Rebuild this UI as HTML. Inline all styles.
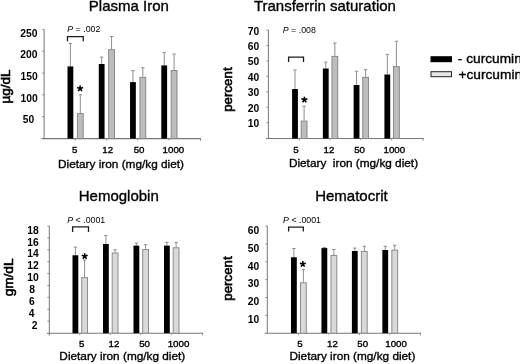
<!DOCTYPE html>
<html><head><meta charset="utf-8"><style>
html,body{margin:0;padding:0;background:#fff;overflow:hidden;}
svg{display:block;font-family:"Liberation Sans", sans-serif;filter:grayscale(1) blur(0.35px);}
text{stroke:#000;stroke-width:0.35px;}
text[font-weight="700"],text.ns{stroke:none;}
</style></head><body>
<svg width="520" height="364" viewBox="0 0 520 364">
<rect width="520" height="364" fill="#fff"/>
<line x1="44.1" y1="29.4" x2="44.1" y2="139.1" stroke="#777" stroke-width="1"/>
<line x1="41.6" y1="138.6" x2="201" y2="138.6" stroke="#777" stroke-width="1.1"/>
<line x1="200.5" y1="138.6" x2="200.5" y2="140.8" stroke="#777" stroke-width="0.8"/>
<line x1="75.1" y1="138.6" x2="75.1" y2="140.6" stroke="#777" stroke-width="0.7"/>
<line x1="106.37" y1="138.6" x2="106.37" y2="140.6" stroke="#777" stroke-width="0.7"/>
<line x1="137.64" y1="138.6" x2="137.64" y2="140.6" stroke="#777" stroke-width="0.7"/>
<line x1="168.91" y1="138.6" x2="168.91" y2="140.6" stroke="#777" stroke-width="0.7"/>
<line x1="42.1" y1="29.4" x2="44.1" y2="29.4" stroke="#777" stroke-width="0.8"/>
<line x1="42.1" y1="51.25" x2="44.1" y2="51.25" stroke="#777" stroke-width="0.8"/>
<line x1="42.1" y1="73.1" x2="44.1" y2="73.1" stroke="#777" stroke-width="0.8"/>
<line x1="42.1" y1="94.8" x2="44.1" y2="94.8" stroke="#777" stroke-width="0.8"/>
<line x1="42.1" y1="116.6" x2="44.1" y2="116.6" stroke="#777" stroke-width="0.8"/>
<text x="28.9" y="36.5" font-size="10.3" font-weight="700" text-anchor="middle" >250</text>
<text x="28.9" y="58.2" font-size="10.3" font-weight="700" text-anchor="middle" >200</text>
<text x="29.2" y="80" font-size="10.3" font-weight="700" text-anchor="middle" >150</text>
<text x="29.2" y="101.7" font-size="10.3" font-weight="700" text-anchor="middle" >100</text>
<text x="28.4" y="123.4" font-size="10.3" font-weight="700" text-anchor="middle" >50</text>
<line x1="70.4" y1="43.5" x2="70.4" y2="66.4" stroke="#8e8e8e" stroke-width="1"/>
<line x1="68.7" y1="43.5" x2="72.1" y2="43.5" stroke="#8e8e8e" stroke-width="1"/>
<rect x="67.5" y="66.4" width="5.8" height="72.2" fill="#000"/>
<line x1="80.3" y1="94.75" x2="80.3" y2="113.1" stroke="#8e8e8e" stroke-width="1"/>
<line x1="78.6" y1="94.75" x2="82.0" y2="94.75" stroke="#8e8e8e" stroke-width="1"/>
<rect x="77.4" y="113.6" width="5.8" height="25.0" fill="#bdbdbd" stroke="#888" stroke-width="1"/>
<line x1="101.67" y1="57.1" x2="101.67" y2="64" stroke="#8e8e8e" stroke-width="1"/>
<line x1="99.97" y1="57.1" x2="103.37" y2="57.1" stroke="#8e8e8e" stroke-width="1"/>
<rect x="98.77" y="64" width="5.8" height="74.6" fill="#000"/>
<line x1="111.57" y1="36.5" x2="111.57" y2="49.2" stroke="#8e8e8e" stroke-width="1"/>
<line x1="109.87" y1="36.5" x2="113.27" y2="36.5" stroke="#8e8e8e" stroke-width="1"/>
<rect x="108.67" y="49.7" width="5.8" height="88.9" fill="#bdbdbd" stroke="#888" stroke-width="1"/>
<line x1="132.94" y1="70.6" x2="132.94" y2="82.1" stroke="#8e8e8e" stroke-width="1"/>
<line x1="131.24" y1="70.6" x2="134.64" y2="70.6" stroke="#8e8e8e" stroke-width="1"/>
<rect x="130.04" y="82.1" width="5.8" height="56.5" fill="#000"/>
<line x1="142.84" y1="67.75" x2="142.84" y2="76.9" stroke="#8e8e8e" stroke-width="1"/>
<line x1="141.14" y1="67.75" x2="144.54" y2="67.75" stroke="#8e8e8e" stroke-width="1"/>
<rect x="139.94" y="77.4" width="5.8" height="61.2" fill="#bdbdbd" stroke="#888" stroke-width="1"/>
<line x1="164.21" y1="52.5" x2="164.21" y2="65.4" stroke="#8e8e8e" stroke-width="1"/>
<line x1="162.51" y1="52.5" x2="165.91" y2="52.5" stroke="#8e8e8e" stroke-width="1"/>
<rect x="161.31" y="65.4" width="5.8" height="73.2" fill="#000"/>
<line x1="174.11" y1="54" x2="174.11" y2="70" stroke="#8e8e8e" stroke-width="1"/>
<line x1="172.41" y1="54" x2="175.81" y2="54" stroke="#8e8e8e" stroke-width="1"/>
<rect x="171.21" y="70.5" width="5.8" height="68.1" fill="#bdbdbd" stroke="#888" stroke-width="1"/>
<text x="0" y="0" font-size="9.1" text-anchor="middle" transform="translate(74.7 152.9) scale(1.07 1)">5</text>
<text x="0" y="0" font-size="9.1" text-anchor="middle" transform="translate(107.7 152.9) scale(1.07 1)">12</text>
<text x="0" y="0" font-size="9.1" text-anchor="middle" transform="translate(139.1 152.9) scale(1.07 1)">50</text>
<text x="0" y="0" font-size="9.1" text-anchor="middle" transform="translate(173.4 152.9) scale(1.07 1)">1000</text>
<text x="121" y="167.5" font-size="11.8" font-weight="400" text-anchor="middle" xml:space="preserve">Dietary iron (mg/kg diet)</text>
<text x="128.85" y="10.7" font-size="15" font-weight="400" text-anchor="middle" >Plasma Iron</text>
<text x="0" y="0" font-size="13.5" text-anchor="middle" style="stroke-width:0.6px" transform="translate(9.6,86.45) rotate(-90)">µg/dL</text>
<path d="M67.5 41.3 V36.6 H83.2 V41.3" fill="none" stroke="#1a1a1a" stroke-width="1.3"/>
<text class="ns" x="67.3" y="32.1" font-size="8.8" xml:space="preserve"><tspan font-style="italic">P</tspan> = .002</text>
<path d="M80.10 88.50L80.10 85.40M80.10 88.50L83.05 87.54M80.10 88.50L81.92 91.01M80.10 88.50L78.28 91.01M80.10 88.50L77.15 87.54" stroke="#000" stroke-width="1.6" fill="none"/>
<line x1="268.4" y1="30" x2="268.4" y2="139.0" stroke="#777" stroke-width="1"/>
<line x1="265.9" y1="138.5" x2="423.7" y2="138.5" stroke="#777" stroke-width="1.1"/>
<line x1="423.2" y1="138.5" x2="423.2" y2="140.7" stroke="#777" stroke-width="0.8"/>
<line x1="299.3" y1="138.5" x2="299.3" y2="140.5" stroke="#777" stroke-width="0.7"/>
<line x1="330.07" y1="138.5" x2="330.07" y2="140.5" stroke="#777" stroke-width="0.7"/>
<line x1="360.84" y1="138.5" x2="360.84" y2="140.5" stroke="#777" stroke-width="0.7"/>
<line x1="391.61" y1="138.5" x2="391.61" y2="140.5" stroke="#777" stroke-width="0.7"/>
<line x1="266.4" y1="30.0" x2="268.4" y2="30.0" stroke="#777" stroke-width="0.8"/>
<line x1="266.4" y1="45.45" x2="268.4" y2="45.45" stroke="#777" stroke-width="0.8"/>
<line x1="266.4" y1="60.9" x2="268.4" y2="60.9" stroke="#777" stroke-width="0.8"/>
<line x1="266.4" y1="76.35" x2="268.4" y2="76.35" stroke="#777" stroke-width="0.8"/>
<line x1="266.4" y1="91.8" x2="268.4" y2="91.8" stroke="#777" stroke-width="0.8"/>
<line x1="266.4" y1="107.25" x2="268.4" y2="107.25" stroke="#777" stroke-width="0.8"/>
<line x1="266.4" y1="122.7" x2="268.4" y2="122.7" stroke="#777" stroke-width="0.8"/>
<text x="253.5" y="34.75" font-size="10.3" font-weight="700" text-anchor="middle" >70</text>
<text x="253.5" y="50.11" font-size="10.3" font-weight="700" text-anchor="middle" >60</text>
<text x="253.5" y="65.47" font-size="10.3" font-weight="700" text-anchor="middle" >50</text>
<text x="253.5" y="80.83" font-size="10.3" font-weight="700" text-anchor="middle" >40</text>
<text x="253.5" y="96.19" font-size="10.3" font-weight="700" text-anchor="middle" >30</text>
<text x="253.5" y="111.55" font-size="10.3" font-weight="700" text-anchor="middle" >20</text>
<text x="253.5" y="126.91" font-size="10.3" font-weight="700" text-anchor="middle" >10</text>
<line x1="295.0" y1="70" x2="295.0" y2="89" stroke="#8e8e8e" stroke-width="1"/>
<line x1="293.3" y1="70" x2="296.7" y2="70" stroke="#8e8e8e" stroke-width="1"/>
<rect x="292.1" y="89" width="5.8" height="49.5" fill="#000"/>
<line x1="304.1" y1="106.25" x2="304.1" y2="120.6" stroke="#8e8e8e" stroke-width="1"/>
<line x1="302.4" y1="106.25" x2="305.8" y2="106.25" stroke="#8e8e8e" stroke-width="1"/>
<rect x="301.2" y="121.1" width="5.8" height="17.4" fill="#bdbdbd" stroke="#888" stroke-width="1"/>
<line x1="325.77" y1="62.1" x2="325.77" y2="68.5" stroke="#8e8e8e" stroke-width="1"/>
<line x1="324.07" y1="62.1" x2="327.47" y2="62.1" stroke="#8e8e8e" stroke-width="1"/>
<rect x="322.87" y="68.5" width="5.8" height="70.0" fill="#000"/>
<line x1="334.87" y1="43.1" x2="334.87" y2="55.9" stroke="#8e8e8e" stroke-width="1"/>
<line x1="333.17" y1="43.1" x2="336.57" y2="43.1" stroke="#8e8e8e" stroke-width="1"/>
<rect x="331.97" y="56.4" width="5.8" height="82.1" fill="#bdbdbd" stroke="#888" stroke-width="1"/>
<line x1="356.54" y1="71.25" x2="356.54" y2="85" stroke="#8e8e8e" stroke-width="1"/>
<line x1="354.84" y1="71.25" x2="358.24" y2="71.25" stroke="#8e8e8e" stroke-width="1"/>
<rect x="353.64" y="85" width="5.8" height="53.5" fill="#000"/>
<line x1="365.64" y1="69.75" x2="365.64" y2="76.9" stroke="#8e8e8e" stroke-width="1"/>
<line x1="363.94" y1="69.75" x2="367.34" y2="69.75" stroke="#8e8e8e" stroke-width="1"/>
<rect x="362.74" y="77.4" width="5.8" height="61.1" fill="#bdbdbd" stroke="#888" stroke-width="1"/>
<line x1="387.31" y1="54.4" x2="387.31" y2="74.5" stroke="#8e8e8e" stroke-width="1"/>
<line x1="385.61" y1="54.4" x2="389.01" y2="54.4" stroke="#8e8e8e" stroke-width="1"/>
<rect x="384.41" y="74.5" width="5.8" height="64.0" fill="#000"/>
<line x1="396.41" y1="41.25" x2="396.41" y2="66.1" stroke="#8e8e8e" stroke-width="1"/>
<line x1="394.71" y1="41.25" x2="398.11" y2="41.25" stroke="#8e8e8e" stroke-width="1"/>
<rect x="393.51" y="66.6" width="5.8" height="71.9" fill="#bdbdbd" stroke="#888" stroke-width="1"/>
<text x="0" y="0" font-size="9.1" text-anchor="middle" transform="translate(296 152.8) scale(1.07 1)">5</text>
<text x="0" y="0" font-size="9.1" text-anchor="middle" transform="translate(328.9 152.8) scale(1.07 1)">12</text>
<text x="0" y="0" font-size="9.1" text-anchor="middle" transform="translate(359.6 152.8) scale(1.07 1)">50</text>
<text x="0" y="0" font-size="9.1" text-anchor="middle" transform="translate(394.3 152.8) scale(1.07 1)">1000</text>
<text x="353.5" y="167.3" font-size="11.8" font-weight="400" text-anchor="middle" xml:space="preserve">Dietary  iron (mg/kg diet)</text>
<text x="324.9" y="10.6" font-size="15" font-weight="400" text-anchor="middle" >Transferrin saturation</text>
<text x="0" y="0" font-size="13.3" text-anchor="middle" style="stroke-width:0.6px" transform="translate(231.8,89.6) rotate(-90)">percent</text>
<path d="M288.6 61.9 V57.1 H303.5 V61.9" fill="none" stroke="#1a1a1a" stroke-width="1.3"/>
<text class="ns" x="282.8" y="32.9" font-size="8.8" xml:space="preserve"><tspan font-style="italic">P</tspan> = .008</text>
<path d="M304.40 99.80L304.40 96.70M304.40 99.80L307.35 98.84M304.40 99.80L306.22 102.31M304.40 99.80L302.58 102.31M304.40 99.80L301.45 98.84" stroke="#000" stroke-width="1.6" fill="none"/>
<line x1="49.3" y1="226" x2="49.3" y2="335.6" stroke="#777" stroke-width="1"/>
<line x1="46.8" y1="333.2" x2="203.1" y2="333.2" stroke="#777" stroke-width="1.1"/>
<line x1="202.6" y1="333.2" x2="202.6" y2="335.4" stroke="#777" stroke-width="0.8"/>
<line x1="79.75" y1="333.2" x2="79.75" y2="335.2" stroke="#777" stroke-width="0.7"/>
<line x1="110.25" y1="333.2" x2="110.25" y2="335.2" stroke="#777" stroke-width="0.7"/>
<line x1="140.75" y1="333.2" x2="140.75" y2="335.2" stroke="#777" stroke-width="0.7"/>
<line x1="171.25" y1="333.2" x2="171.25" y2="335.2" stroke="#777" stroke-width="0.7"/>
<line x1="47.3" y1="226.0" x2="49.3" y2="226.0" stroke="#777" stroke-width="0.8"/>
<line x1="47.3" y1="237.9" x2="49.3" y2="237.9" stroke="#777" stroke-width="0.8"/>
<line x1="47.3" y1="249.8" x2="49.3" y2="249.8" stroke="#777" stroke-width="0.8"/>
<line x1="47.3" y1="261.7" x2="49.3" y2="261.7" stroke="#777" stroke-width="0.8"/>
<line x1="47.3" y1="273.6" x2="49.3" y2="273.6" stroke="#777" stroke-width="0.8"/>
<line x1="47.3" y1="285.5" x2="49.3" y2="285.5" stroke="#777" stroke-width="0.8"/>
<line x1="47.3" y1="297.4" x2="49.3" y2="297.4" stroke="#777" stroke-width="0.8"/>
<line x1="47.3" y1="309.3" x2="49.3" y2="309.3" stroke="#777" stroke-width="0.8"/>
<line x1="47.3" y1="321.2" x2="49.3" y2="321.2" stroke="#777" stroke-width="0.8"/>
<text x="32.9" y="233.75" font-size="10.3" font-weight="700" text-anchor="middle" >18</text>
<text x="32.9" y="245.6" font-size="10.3" font-weight="700" text-anchor="middle" >16</text>
<text x="32.9" y="257.45" font-size="10.3" font-weight="700" text-anchor="middle" >14</text>
<text x="32.9" y="269.3" font-size="10.3" font-weight="700" text-anchor="middle" >12</text>
<text x="32.9" y="281.15" font-size="10.3" font-weight="700" text-anchor="middle" >10</text>
<text x="32.2" y="293.0" font-size="10.3" font-weight="700" text-anchor="middle" >8</text>
<text x="31.9" y="304.85" font-size="10.3" font-weight="700" text-anchor="middle" >6</text>
<text x="31.6" y="316.7" font-size="10.3" font-weight="700" text-anchor="middle" >4</text>
<text x="34.7" y="328.55" font-size="10.3" font-weight="700" text-anchor="middle" >2</text>
<line x1="75.4" y1="247.1" x2="75.4" y2="255.25" stroke="#8e8e8e" stroke-width="1"/>
<line x1="73.7" y1="247.1" x2="77.1" y2="247.1" stroke="#8e8e8e" stroke-width="1"/>
<rect x="72.5" y="255.25" width="5.8" height="77.95" fill="#000"/>
<line x1="84.6" y1="260" x2="84.6" y2="277.1" stroke="#8e8e8e" stroke-width="1"/>
<line x1="82.9" y1="260" x2="86.3" y2="260" stroke="#8e8e8e" stroke-width="1"/>
<rect x="81.7" y="277.6" width="5.8" height="55.6" fill="#d9d9d9" stroke="#8c8c8c" stroke-width="1"/>
<line x1="105.9" y1="235.6" x2="105.9" y2="244" stroke="#8e8e8e" stroke-width="1"/>
<line x1="104.2" y1="235.6" x2="107.6" y2="235.6" stroke="#8e8e8e" stroke-width="1"/>
<rect x="103.0" y="244" width="5.8" height="89.2" fill="#000"/>
<line x1="115.1" y1="249.75" x2="115.1" y2="252.5" stroke="#8e8e8e" stroke-width="1"/>
<line x1="113.4" y1="249.75" x2="116.8" y2="249.75" stroke="#8e8e8e" stroke-width="1"/>
<rect x="112.2" y="253.0" width="5.8" height="80.2" fill="#d9d9d9" stroke="#8c8c8c" stroke-width="1"/>
<line x1="136.4" y1="243.1" x2="136.4" y2="245.6" stroke="#8e8e8e" stroke-width="1"/>
<line x1="134.7" y1="243.1" x2="138.1" y2="243.1" stroke="#8e8e8e" stroke-width="1"/>
<rect x="133.5" y="245.6" width="5.8" height="87.6" fill="#000"/>
<line x1="145.6" y1="244.75" x2="145.6" y2="249.1" stroke="#8e8e8e" stroke-width="1"/>
<line x1="143.9" y1="244.75" x2="147.3" y2="244.75" stroke="#8e8e8e" stroke-width="1"/>
<rect x="142.7" y="249.6" width="5.8" height="83.6" fill="#d9d9d9" stroke="#8c8c8c" stroke-width="1"/>
<line x1="166.9" y1="242.25" x2="166.9" y2="245.6" stroke="#8e8e8e" stroke-width="1"/>
<line x1="165.2" y1="242.25" x2="168.6" y2="242.25" stroke="#8e8e8e" stroke-width="1"/>
<rect x="164.0" y="245.6" width="5.8" height="87.6" fill="#000"/>
<line x1="176.1" y1="242.5" x2="176.1" y2="247.25" stroke="#8e8e8e" stroke-width="1"/>
<line x1="174.4" y1="242.5" x2="177.8" y2="242.5" stroke="#8e8e8e" stroke-width="1"/>
<rect x="173.2" y="247.75" width="5.8" height="85.45" fill="#d9d9d9" stroke="#8c8c8c" stroke-width="1"/>
<text x="0" y="0" font-size="9.1" text-anchor="middle" transform="translate(81.7 346.5) scale(1.07 1)">5</text>
<text x="0" y="0" font-size="9.1" text-anchor="middle" transform="translate(114 346.5) scale(1.07 1)">12</text>
<text x="0" y="0" font-size="9.1" text-anchor="middle" transform="translate(144.6 346.5) scale(1.07 1)">50</text>
<text x="0" y="0" font-size="9.1" text-anchor="middle" transform="translate(178.5 346.5) scale(1.07 1)">1000</text>
<text x="122.3" y="360.3" font-size="11.8" font-weight="400" text-anchor="middle" xml:space="preserve">Dietary iron (mg/kg diet)</text>
<text x="118.75" y="200.8" font-size="15" font-weight="400" text-anchor="middle" >Hemoglobin</text>
<text x="0" y="0" font-size="13.6" text-anchor="middle" style="stroke-width:0.6px" transform="translate(12.8,277.45) rotate(-90)">gm/dL</text>
<path d="M72.6 231.9 V226.9 H88.5 V231.9" fill="none" stroke="#1a1a1a" stroke-width="1.3"/>
<text class="ns" x="67.3" y="223.1" font-size="8.8" xml:space="preserve"><tspan font-style="italic">P</tspan> &lt; .0001</text>
<path d="M84.70 256.30L84.70 253.20M84.70 256.30L87.65 255.34M84.70 256.30L86.52 258.81M84.70 256.30L82.88 258.81M84.70 256.30L81.75 255.34" stroke="#000" stroke-width="1.6" fill="none"/>
<line x1="267.3" y1="226" x2="267.3" y2="333.7" stroke="#777" stroke-width="1"/>
<line x1="264.8" y1="333.2" x2="421" y2="333.2" stroke="#777" stroke-width="1.1"/>
<line x1="420.5" y1="333.2" x2="420.5" y2="335.4" stroke="#777" stroke-width="0.8"/>
<line x1="298.4" y1="333.2" x2="298.4" y2="335.2" stroke="#777" stroke-width="0.7"/>
<line x1="328.85" y1="333.2" x2="328.85" y2="335.2" stroke="#777" stroke-width="0.7"/>
<line x1="359.3" y1="333.2" x2="359.3" y2="335.2" stroke="#777" stroke-width="0.7"/>
<line x1="389.75" y1="333.2" x2="389.75" y2="335.2" stroke="#777" stroke-width="0.7"/>
<line x1="265.3" y1="226.0" x2="267.3" y2="226.0" stroke="#777" stroke-width="0.8"/>
<line x1="265.3" y1="243.88" x2="267.3" y2="243.88" stroke="#777" stroke-width="0.8"/>
<line x1="265.3" y1="261.76" x2="267.3" y2="261.76" stroke="#777" stroke-width="0.8"/>
<line x1="265.3" y1="279.64" x2="267.3" y2="279.64" stroke="#777" stroke-width="0.8"/>
<line x1="265.3" y1="297.52" x2="267.3" y2="297.52" stroke="#777" stroke-width="0.8"/>
<line x1="265.3" y1="315.4" x2="267.3" y2="315.4" stroke="#777" stroke-width="0.8"/>
<text x="253.5" y="234.0" font-size="10.3" font-weight="700" text-anchor="middle" >60</text>
<text x="253.5" y="251.8" font-size="10.3" font-weight="700" text-anchor="middle" >50</text>
<text x="253.5" y="269.6" font-size="10.3" font-weight="700" text-anchor="middle" >40</text>
<text x="253.5" y="287.4" font-size="10.3" font-weight="700" text-anchor="middle" >30</text>
<text x="253.5" y="305.2" font-size="10.3" font-weight="700" text-anchor="middle" >20</text>
<text x="253.5" y="323.0" font-size="10.3" font-weight="700" text-anchor="middle" >10</text>
<line x1="293.9" y1="248.5" x2="293.9" y2="257.25" stroke="#8e8e8e" stroke-width="1"/>
<line x1="292.2" y1="248.5" x2="295.6" y2="248.5" stroke="#8e8e8e" stroke-width="1"/>
<rect x="291.0" y="257.25" width="5.8" height="75.95" fill="#000"/>
<line x1="303.4" y1="269.6" x2="303.4" y2="282.25" stroke="#8e8e8e" stroke-width="1"/>
<line x1="301.7" y1="269.6" x2="305.1" y2="269.6" stroke="#8e8e8e" stroke-width="1"/>
<rect x="300.5" y="282.75" width="5.8" height="50.45" fill="#d9d9d9" stroke="#8c8c8c" stroke-width="1"/>
<line x1="324.35" y1="247.6" x2="324.35" y2="248.1" stroke="#8e8e8e" stroke-width="1"/>
<line x1="322.65" y1="247.6" x2="326.05" y2="247.6" stroke="#8e8e8e" stroke-width="1"/>
<rect x="321.45" y="248.1" width="5.8" height="85.1" fill="#000"/>
<line x1="333.85" y1="249.5" x2="333.85" y2="255" stroke="#8e8e8e" stroke-width="1"/>
<line x1="332.15" y1="249.5" x2="335.55" y2="249.5" stroke="#8e8e8e" stroke-width="1"/>
<rect x="330.95" y="255.5" width="5.8" height="77.7" fill="#d9d9d9" stroke="#8c8c8c" stroke-width="1"/>
<line x1="354.8" y1="248.1" x2="354.8" y2="251" stroke="#8e8e8e" stroke-width="1"/>
<line x1="353.1" y1="248.1" x2="356.5" y2="248.1" stroke="#8e8e8e" stroke-width="1"/>
<rect x="351.9" y="251" width="5.8" height="82.2" fill="#000"/>
<line x1="364.3" y1="246.25" x2="364.3" y2="251" stroke="#8e8e8e" stroke-width="1"/>
<line x1="362.6" y1="246.25" x2="366.0" y2="246.25" stroke="#8e8e8e" stroke-width="1"/>
<rect x="361.4" y="251.5" width="5.8" height="81.7" fill="#d9d9d9" stroke="#8c8c8c" stroke-width="1"/>
<line x1="385.25" y1="246.25" x2="385.25" y2="250" stroke="#8e8e8e" stroke-width="1"/>
<line x1="383.55" y1="246.25" x2="386.95" y2="246.25" stroke="#8e8e8e" stroke-width="1"/>
<rect x="382.35" y="250" width="5.8" height="83.2" fill="#000"/>
<line x1="394.75" y1="245.25" x2="394.75" y2="249.6" stroke="#8e8e8e" stroke-width="1"/>
<line x1="393.05" y1="245.25" x2="396.45" y2="245.25" stroke="#8e8e8e" stroke-width="1"/>
<rect x="391.85" y="250.1" width="5.8" height="83.1" fill="#d9d9d9" stroke="#8c8c8c" stroke-width="1"/>
<text x="0" y="0" font-size="9.1" text-anchor="middle" transform="translate(299.9 346.5) scale(1.07 1)">5</text>
<text x="0" y="0" font-size="9.1" text-anchor="middle" transform="translate(332.4 346.5) scale(1.07 1)">12</text>
<text x="0" y="0" font-size="9.1" text-anchor="middle" transform="translate(362.7 346.5) scale(1.07 1)">50</text>
<text x="0" y="0" font-size="9.1" text-anchor="middle" transform="translate(396.1 346.5) scale(1.07 1)">1000</text>
<text x="352.4" y="360.3" font-size="11.8" font-weight="400" text-anchor="middle" xml:space="preserve">Dietary iron (mg/kg diet)</text>
<text x="351.45" y="200.8" font-size="15" font-weight="400" text-anchor="middle" >Hematocrit</text>
<text x="0" y="0" font-size="13.3" text-anchor="middle" style="stroke-width:0.6px" transform="translate(231.8,278.5) rotate(-90)">percent</text>
<path d="M288.6 231.5 V227.1 H303.3 V231.5" fill="none" stroke="#1a1a1a" stroke-width="1.3"/>
<text class="ns" x="283.1" y="222.9" font-size="8.8" xml:space="preserve"><tspan font-style="italic">P</tspan> &lt; .0001</text>
<path d="M302.80 264.10L302.80 261.00M302.80 264.10L305.75 263.14M302.80 264.10L304.62 266.61M302.80 264.10L300.98 266.61M302.80 264.10L299.85 263.14" stroke="#000" stroke-width="1.6" fill="none"/>
<rect x="430.5" y="56.2" width="21.5" height="6" fill="#000"/>
<rect x="431" y="71.7" width="20.5" height="5" fill="#e6e6e6" stroke="#222" stroke-width="1"/>
<g transform="translate(457.8 0) scale(1.09 1)"><text x="0" y="62.6" font-size="12.6">- curcumin</text><text x="0.6" y="78.6" font-size="12.6">+curcumin</text></g>
</svg>
</body></html>
